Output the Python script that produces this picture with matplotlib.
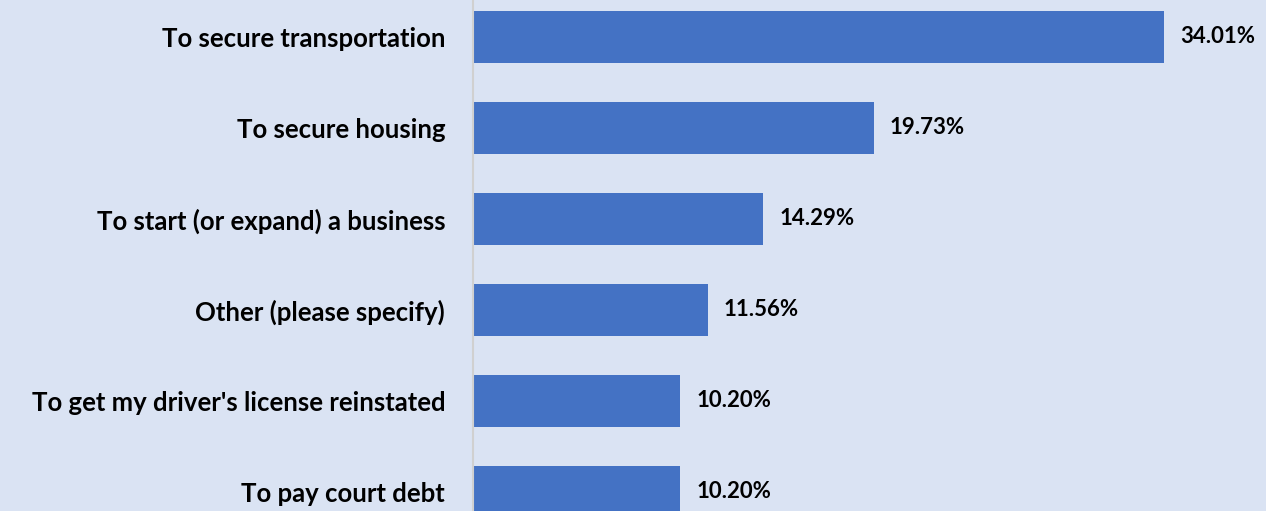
import matplotlib
matplotlib.use("Agg")
import matplotlib.pyplot as plt

categories = [
    "To secure transportation",
    "To secure housing",
    "To start (or expand) a business",
    "Other (please specify)",
    "To get my driver's license reinstated",
    "To pay court debt",
]
values = [34.01, 19.73, 14.29, 11.56, 10.20, 10.20]

BG = "#DAE3F3"
BAR = "#4472C4"

plt.rcParams["font.family"] = ["Lato", "DejaVu Sans"]

fig = plt.figure(figsize=(12.66, 5.11), dpi=100, facecolor=BG)
ax = fig.add_axes([473 / 1266, 0, 1 - 473 / 1266, 1])
ax.set_facecolor(BG)

pos = list(range(len(categories)))
ax.barh(pos, values, height=0.571, color=BAR)

ax.set_xlim(0, 39.03)
ax.set_ylim(5.209, -0.4066)

for y, v in zip(pos, values):
    ax.annotate(f"{v:.2f}%", (v, y), xytext=(11.5, 0), textcoords="offset points",
                ha="left", va="center", fontsize=16, fontweight="bold")

ax.set_yticks(pos)
ax.set_yticklabels(categories, fontsize=18.5, fontweight="bold")
ax.tick_params(axis="y", length=0, pad=20)
ax.set_xticks([])

for s in ["top", "right", "bottom"]:
    ax.spines[s].set_visible(False)
ax.spines["left"].set_color("#D0D0D0")
ax.spines["left"].set_linewidth(1.5)

fig.savefig("out.png", dpi=100, facecolor=BG)
